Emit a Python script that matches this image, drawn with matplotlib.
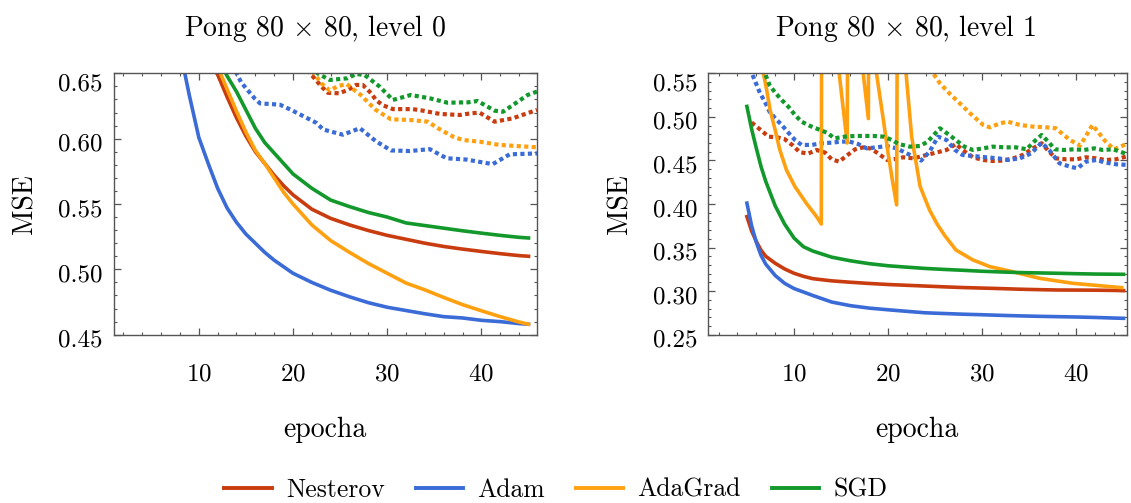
import matplotlib.pyplot as plt
from matplotlib.ticker import MultipleLocator, FormatStrFormatter
from matplotlib.lines import Line2D
from matplotlib.transforms import ScaledTranslation

plt.rcParams['font.family'] = 'cmr10'
plt.rcParams['mathtext.fontset'] = 'cm'
plt.rcParams['axes.formatter.use_mathtext'] = True

names = ['Nesterov', 'Adam', 'AdaGrad', 'SGD']
colors = ['#c83c0f', '#3a6bd6', '#ffa010', '#13982b']

# ---- level 0 : training (solid) ----
ep_L = [5, 6, 7, 8, 9, 10, 11, 12, 13, 14, 15, 16, 17, 18, 19, 20, 22, 24, 26, 28,
        30, 32, 34, 36, 38, 40, 42, 44, 45]
nest_L = [0.86, 0.80, 0.76, 0.725, 0.695, 0.675, 0.66, 0.649, 0.632, 0.616, 0.602, 0.590,
          0.581, 0.572, 0.564, 0.557, 0.546, 0.539, 0.534, 0.5297, 0.526, 0.523, 0.520,
          0.5175, 0.5155, 0.5137, 0.512, 0.5105, 0.510]
adam_L = [0.83, 0.76, 0.71, 0.668, 0.633, 0.601, 0.581, 0.562, 0.547, 0.536, 0.527, 0.520,
          0.513, 0.507, 0.502, 0.497, 0.490, 0.484, 0.479, 0.4745, 0.471, 0.4685, 0.466,
          0.4638, 0.4628, 0.461, 0.460, 0.4585, 0.458]
ada_L = [0.90, 0.84, 0.79, 0.75, 0.715, 0.69, 0.67, 0.655, 0.638, 0.621, 0.605, 0.591,
         0.581, 0.570, 0.559, 0.550, 0.534, 0.522, 0.513, 0.5045, 0.497, 0.4895, 0.4843,
         0.4785, 0.473, 0.4683, 0.4638, 0.4597, 0.458]
sgd_L = [0.92, 0.86, 0.81, 0.77, 0.735, 0.705, 0.68, 0.662, 0.648, 0.636, 0.622, 0.608,
         0.597, 0.589, 0.581, 0.573, 0.562, 0.553, 0.548, 0.5435, 0.540, 0.5355, 0.5335,
         0.5315, 0.5295, 0.5277, 0.526, 0.5245, 0.524]

# ---- level 0 : validation (dotted) ----
nest_Lv_e = [21.0, 23.0, 23.7, 24.9, 25.8, 26.7, 27.4, 28.3, 28.8, 29.5, 30.6, 32.7, 33.8,
             35.6, 37.7, 38.9, 39.8, 41.4, 43.3, 45.9]
nest_Lv = [0.657, 0.640, 0.6351, 0.6347, 0.6372, 0.6411, 0.6411, 0.6347, 0.6296, 0.6257,
           0.6226, 0.6226, 0.6214, 0.6189, 0.6181, 0.6194, 0.6199, 0.613, 0.6155, 0.622]
adam_Lv_e = [12.5, 14.5, 15.9, 16.5, 18.6, 19.8, 22.5, 23.2, 25.3, 27.1, 28.8, 30.4, 32.4,
             34.5, 36.3, 38.4, 41.2, 43.0, 45.9]
adam_Lv = [0.672, 0.643, 0.631, 0.627, 0.626, 0.622, 0.612, 0.607, 0.603, 0.608, 0.598,
           0.591, 0.5905, 0.592, 0.585, 0.584, 0.5805, 0.588, 0.5887]
ada_Lv_e = [21.5, 22.1, 23.0, 23.9, 24.8, 25.7, 26.5, 27.2, 27.9, 28.8, 30.4, 32.4, 34.3,
            35.4, 37.0, 38.0, 39.8, 41.9, 45.9]
ada_Lv = [0.656, 0.651, 0.6424, 0.6368, 0.6403, 0.6418, 0.6372, 0.6334, 0.6283, 0.6219,
          0.6148, 0.6143, 0.613, 0.6079, 0.6015, 0.599, 0.5977, 0.5952, 0.5934]
sgd_Lv_e = [22.0, 22.6, 23.9, 25.8, 26.7, 27.6, 29.2, 30.6, 32.5, 34.5, 36.4, 38.6, 39.6,
            41.4, 42.3, 44.9, 45.9]
sgd_Lv = [0.656, 0.650, 0.6449, 0.6462, 0.6495, 0.6487, 0.6398, 0.6296, 0.6334, 0.6309,
          0.6275, 0.6278, 0.6288, 0.6214, 0.6206, 0.6334, 0.636]

# ---- level 1 : training (solid) ----
ep_R = [5, 5.5, 6, 6.5, 7, 8, 9, 10, 11, 12, 14, 16, 18, 20, 22, 24, 26, 28, 30, 32, 34,
        36, 38, 40, 42, 44, 45]
nest_R = [0.3855, 0.369, 0.357, 0.347, 0.340, 0.332, 0.3255, 0.3205, 0.317, 0.3143, 0.3118,
          0.3102, 0.3088, 0.3076, 0.3067, 0.3058, 0.3049, 0.3041, 0.3035, 0.3029, 0.3022,
          0.3017, 0.3013, 0.3012, 0.3011, 0.3008, 0.3006]
adam_R = [0.401, 0.375, 0.356, 0.341, 0.331, 0.318, 0.309, 0.303, 0.299, 0.295, 0.2875,
          0.2833, 0.2805, 0.2786, 0.2768, 0.2751, 0.2743, 0.2735, 0.2729, 0.2722, 0.2716,
          0.2711, 0.2707, 0.2703, 0.2698, 0.2691, 0.2688]
sgd_R = [0.512, 0.486, 0.464, 0.443, 0.426, 0.398, 0.377, 0.361, 0.351, 0.346, 0.339,
         0.3348, 0.3315, 0.3291, 0.3275, 0.3260, 0.3249, 0.3239, 0.3228, 0.3220, 0.3213,
         0.3209, 0.3205, 0.3200, 0.3196, 0.3194, 0.3193]
ada_R_e = [5.0, 6.75, 7.1, 7.46, 8.0, 8.5, 9.2, 10.1, 11.3, 12.4, 12.9, 12.95, 14.75, 14.8,
           15.2, 15.65, 15.75, 17.3, 17.35, 17.9, 17.95, 18.7, 18.76, 19.5, 20.0, 20.5,
           20.9, 21.0, 21.85, 21.9, 22.5, 23.4, 24.4, 25.2, 26.0, 27.2, 29.0, 30.8, 32.9,
           36.1, 39.6, 44.8]
ada_R = [0.80, 0.55, 0.531, 0.508, 0.485, 0.462, 0.439, 0.42, 0.401, 0.3855, 0.377, 0.70,
         0.70, 0.55, 0.512, 0.47, 0.70, 0.70, 0.55, 0.498, 0.70, 0.70, 0.55, 0.496, 0.458,
         0.424, 0.399, 0.70, 0.70, 0.55, 0.477, 0.42, 0.393, 0.377, 0.364, 0.3472, 0.3358,
         0.3281, 0.3231, 0.3147, 0.309, 0.304]

# ---- level 1 : validation (dotted) ----
nest_Rv_e = [5.5, 6.4, 7.3, 8.2, 9.0, 9.9, 10.6, 11.5, 12.4, 13.3, 14.0, 14.8, 15.6, 16.5,
             17.35, 18.2, 19.0, 19.9, 20.7, 21.6, 22.7, 24.1, 25.1, 26.2, 27.2, 27.9, 29.0,
             30.1, 31.1, 32.2, 33.3, 34.3, 35.4, 36.3, 37.1, 37.8, 38.9, 40.0, 41.0, 42.1,
             43.1, 44.2, 45.5]
nest_Rv = [0.4935, 0.4855, 0.4773, 0.4765, 0.4745, 0.467, 0.4595, 0.4578, 0.462, 0.459,
           0.4513, 0.4486, 0.4555, 0.4628, 0.465, 0.4635, 0.4575, 0.4505, 0.4515, 0.4536,
           0.4524, 0.4563, 0.459, 0.462, 0.4689, 0.462, 0.4536, 0.4505, 0.4494, 0.4498,
           0.4524, 0.4563, 0.4639, 0.4697, 0.4601, 0.4524, 0.4513, 0.4513, 0.4536, 0.4524,
           0.4505, 0.4513, 0.4551]
adam_Rv_e = [5.3, 6.4, 6.9, 7.4, 8.0, 8.7, 9.4, 10.1, 10.8, 11.9, 12.9, 14.0, 15.05, 15.9,
             16.8, 17.7, 18.8, 19.8, 20.9, 21.8, 22.7, 23.5, 24.4, 25.3, 26.2, 27.1, 27.9,
             29.0, 30.4, 31.7, 32.7, 34.0, 35.2, 36.3, 37.1, 38.2, 39.3, 40.1, 41.0, 42.1,
             43.1, 44.2, 45.5]
adam_Rv = [0.556, 0.527, 0.5175, 0.506, 0.4985, 0.4907, 0.4819, 0.4735, 0.4678, 0.4678,
           0.4697, 0.4704, 0.4716, 0.4716, 0.4689, 0.4639, 0.465, 0.4666, 0.4639, 0.459,
           0.4544, 0.4498, 0.4601, 0.4773, 0.4735, 0.462, 0.4563, 0.4551, 0.4536, 0.4524,
           0.4505, 0.4524, 0.4582, 0.4704, 0.462, 0.4467, 0.4429, 0.441, 0.4486, 0.4505,
           0.4475, 0.4456, 0.4448]
ada_Rv_e = [24.4, 25.5, 26.5, 27.6, 28.7, 30.1, 30.8, 31.9, 32.7, 34.0, 35.4, 36.8, 37.8,
            39.3, 40.4, 41.7, 43.1, 44.0, 45.5]
ada_Rv = [0.556, 0.5385, 0.527, 0.5156, 0.5041, 0.4907, 0.488, 0.4926, 0.4945, 0.4907,
          0.4888, 0.488, 0.4869, 0.4735, 0.467, 0.4907, 0.4716, 0.4628, 0.4697]
sgd_Rv_e = [6.7, 7.4, 8.0, 8.7, 9.4, 10.1, 10.8, 11.7, 12.6, 13.5, 14.3, 15.4, 16.5, 17.5,
            18.4, 19.5, 20.4, 21.1, 22.3, 23.4, 24.2, 25.5, 26.5, 27.4, 28.1, 29.0, 30.1,
            31.1, 32.5, 33.6, 34.7, 35.5, 36.3, 37.0, 37.7, 38.7, 39.8, 40.8, 41.9, 42.8,
            43.9, 44.9, 45.6]
sgd_Rv = [0.556, 0.5366, 0.5278, 0.5194, 0.5117, 0.5022, 0.4945, 0.4896, 0.4857, 0.4819,
          0.4754, 0.4773, 0.4781, 0.4781, 0.4781, 0.4773, 0.4735, 0.4689, 0.4658, 0.4666,
          0.4716, 0.4869, 0.4792, 0.4716, 0.4658, 0.462, 0.4639, 0.4658, 0.465, 0.465,
          0.4628, 0.4716, 0.4792, 0.4716, 0.4628, 0.462, 0.4628, 0.462, 0.4639, 0.462,
          0.4628, 0.459, 0.4563]

W, H = 1131, 503
fig = plt.figure(figsize=(W / 100, H / 100), dpi=100)
ax1 = fig.add_axes([114 / W, (H - 334.7) / H, 423 / W, 261.4 / H])
ax2 = fig.add_axes([708.3 / W, (H - 334.7) / H, 419 / W, 261.4 / H])

dot = (0, (1.0, 0.8))
panel_L = [(ep_L, nest_L, nest_Lv_e, nest_Lv), (ep_L, adam_L, adam_Lv_e, adam_Lv),
           (ep_L, ada_L, ada_Lv_e, ada_Lv), (ep_L, sgd_L, sgd_Lv_e, sgd_Lv)]
panel_R = [(ep_R, nest_R, nest_Rv_e, nest_Rv), (ep_R, adam_R, adam_Rv_e, adam_Rv),
           (ada_R_e, ada_R, ada_Rv_e, ada_Rv), (ep_R, sgd_R, sgd_Rv_e, sgd_Rv)]

for ax, panel in [(ax1, panel_L), (ax2, panel_R)]:
    for (te, tv, ve, vv), c in zip(panel, colors):
        ax.plot(te, tv, color=c, lw=2.6, solid_joinstyle='round')
        ax.plot(ve, vv, color=c, lw=3.0, linestyle=dot)

ax1.set_xlim(1.0, 45.9)
ax1.set_ylim(0.45, 0.65)
ax2.set_xlim(0.9, 45.4)
ax2.set_ylim(0.25, 0.55)

for ax in (ax1, ax2):
    ax.xaxis.set_major_locator(MultipleLocator(10))
    ax.xaxis.set_minor_locator(MultipleLocator(2))
    ax.yaxis.set_major_locator(MultipleLocator(0.05))
    ax.yaxis.set_minor_locator(MultipleLocator(0.01))
    ax.yaxis.set_major_formatter(FormatStrFormatter('%.2f'))
    ax.tick_params(which='both', direction='in', top=True, right=True,
                   color='#555555', labelsize=18)
    ax.tick_params(which='major', length=5, width=0.9)
    ax.tick_params(which='minor', length=2.5, width=0.8)
    ax.tick_params(axis='x', which='major', pad=21)
    ax.tick_params(axis='y', which='major', pad=8)
    for s in ax.spines.values():
        s.set_color('#555555')
        s.set_linewidth(1.0)

# y tick labels sit a little below their ticks, the top one further down
fig.canvas.draw()
for ax in (ax1, ax2):
    ymax = ax.get_ylim()[1]
    for t in ax.yaxis.get_major_ticks():
        dy = -8.5 if abs(t.get_loc() - ymax) < 1e-6 else -3.5
        t.label1.set_transform(t.label1.get_transform() +
                               ScaledTranslation(0, dy / 100, fig.dpi_scale_trans))

# titles and axis labels
fig.text(315 / W, 1 - 28 / H, r'Pong 80 $\times$ 80, level 0', ha='center', va='center', fontsize=20)
fig.text(906 / W, 1 - 28 / H, r'Pong 80 $\times$ 80, level 1', ha='center', va='center', fontsize=20)
fig.text(325 / W, 1 - 430 / H, 'epocha', ha='center', va='center', fontsize=20)
fig.text(917 / W, 1 - 430 / H, 'epocha', ha='center', va='center', fontsize=20)
fig.text(25 / W, 1 - 204 / H, 'MSE', ha='center', va='center', rotation=90, fontsize=20)
fig.text(620 / W, 1 - 204 / H, 'MSE', ha='center', va='center', rotation=90, fontsize=20)

handles = [Line2D([], [], color=c, lw=2.8) for c in colors]
fig.legend(handles, names, loc='center', bbox_to_anchor=(556 / W, 1 - 490 / H), ncol=4,
           frameon=False, fontsize=18.5, handlelength=1.85, handletextpad=0.55,
           columnspacing=1.2, borderpad=0)

fig.savefig('out.png', dpi=100)
